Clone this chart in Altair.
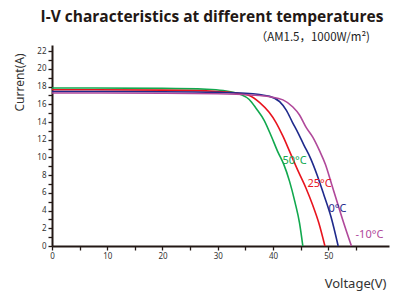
import altair as alt
import pandas as pd

# ---- data ----
series_names = ["50°C", "25°C", "0°C", "-10°C"]
series_colors = ["#11a84e", "#e8141e", "#1f2a8c", "#b0489a"]

v_50 = [0, 20, 28, 31, 34, 35.7, 37.0, 38.4, 39.7, 40.9, 41.9, 43.0, 44.0, 44.8, 45.4]
i_50 = [17.85, 17.8, 17.7, 17.55, 17.15, 16.55, 15.5, 14.2, 12.4, 10.6, 9.3, 7.3, 4.9, 2.6, 0]

v_25 = [0, 20, 30, 33, 35.7, 37.6, 39.3, 40.5, 41.8, 43.2, 44.6, 46.0, 47.2, 48.3, 49.4]
i_25 = [17.65, 17.6, 17.45, 17.3, 17.0, 16.2, 15.1, 14.0, 12.4, 10.4, 8.4, 6.5, 4.6, 2.6, 0]

v_0 = [0, 20, 30, 35, 39.4, 41.2, 42.4, 43.5, 44.6, 45.6, 46.8, 48.0, 49.2, 50.5, 51.8]
i_0 = [17.45, 17.42, 17.35, 17.25, 16.9, 16.3, 15.35, 14.0, 12.7, 11.4, 9.9, 8.0, 5.8, 3.3, 0]

v_m10 = [0, 20, 30, 36, 39.4, 41.8, 43.6, 44.8, 46.0, 47.2, 48.4, 49.5, 50.6, 51.6, 52.6, 54.2]
i_m10 = [17.28, 17.25, 17.2, 17.05, 16.85, 16.5, 15.7, 14.8, 13.4, 12.3, 10.8, 9.2, 7.0, 5.0, 3.0, 0]

label_v = [41.7, 46.25, 50.05, 54.95]
label_i = [9.56, 6.96, 4.14, 1.21]

x_ticks = list(range(0, 56, 5))
y_ticks = list(range(0, 23, 1))

title_text = "I-V characteristics at different temperatures"
subtitle_text = "（AM1.5，1000W/m²)"

# ---- tables ----
rows = []
for name, vs, cs in zip(series_names, [v_50, v_25, v_0, v_m10], [i_50, i_25, i_0, i_m10]):
    for v, c in zip(vs, cs):
        rows.append({"series": name, "V": v, "I": c})
df = pd.DataFrame(rows)
lab = pd.DataFrame({"series": series_names, "V": label_v, "I": label_i})

axis_col = "#231815"
color_scale = alt.Scale(domain=series_names, range=series_colors)

x_axis = alt.Axis(values=x_ticks, labelOverlap=False, labelFlush=False,
                  labelExpr="datum.value % 10 == 0 ? datum.label : ''",
                  title="Voltage(V)", titleX=303, titleY=37,
                  titleAlign="center", titleBaseline="middle",
                  titleFontSize=13, titleFontWeight="normal",
                  titleColor="#333333", titleFont="Noto Sans")
y_axis = alt.Axis(values=y_ticks, labelOverlap=False, labelFlush=False,
                  labelExpr="datum.value % 2 == 0 ? datum.label : ''",
                  title="Current(A)", titleX=-33, titleY=37,
                  titleAlign="center", titleBaseline="middle",
                  titleFontSize=12, titleFontWeight="normal",
                  titleColor="#333333", titleFont="Noto Sans")
x_scale = alt.Scale(domain=[0, 61], nice=False, zero=False)
y_scale = alt.Scale(domain=[0, 22.7], nice=False)

lines = alt.Chart(df).mark_line(strokeWidth=1.6, interpolate="monotone", clip=False).encode(
    x=alt.X("V:Q", scale=x_scale, axis=x_axis),
    y=alt.Y("I:Q", scale=y_scale, axis=y_axis),
    color=alt.Color("series:N", scale=color_scale, legend=None),
    detail="series:N",
)

labels = alt.Chart(lab).mark_text(align="left", baseline="middle", fontSize=11,
                                   font="Noto Sans").encode(
    x=alt.X("V:Q", scale=x_scale, axis=x_axis),
    y=alt.Y("I:Q", scale=y_scale, axis=y_axis),
    text="series:N",
    color=alt.Color("series:N", scale=color_scale, legend=None),
)

subtitle = alt.Chart(pd.DataFrame({"t": [subtitle_text]})).mark_text(
    align="right", baseline="middle", fontSize=11.5, font="Noto Sans CJK SC", color="#222222"
).encode(x=alt.value(318), y=alt.value(-7), text="t:N")

title = alt.Chart(pd.DataFrame({"t": [title_text]})).mark_text(
    align="center", baseline="middle", fontSize=15.5, fontWeight="bold",
    font="Open Sans", color="#231815"
).encode(x=alt.value(160), y=alt.value(-28.5), text="t:N")

chart = alt.layer(lines, labels, subtitle, title).properties(
    width=337, height=201,
    autosize=alt.AutoSizeParams(type="none"),
    padding={"left": 44, "top": 37, "right": 2, "bottom": 46},
).configure_view(stroke=None).configure_axis(
    grid=False, domainColor=axis_col, domainWidth=2, tickColor=axis_col,
    tickWidth=1.3, tickSize=4, labelFontSize=8, labelColor="#333333",
    labelFont="Noto Sans", labelPadding=2, labelOverlap=False,
)

chart.save("out.html", embed_options={"renderer": "svg", "actions": False})
